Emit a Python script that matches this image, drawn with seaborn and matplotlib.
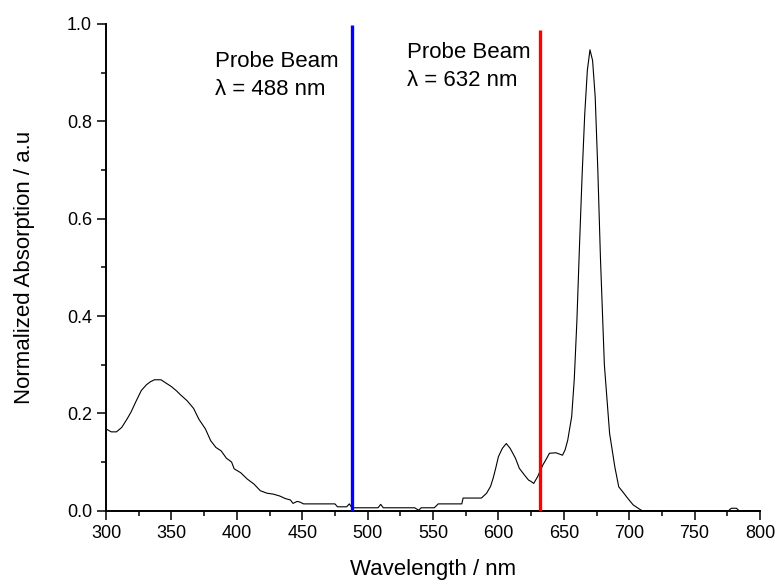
import matplotlib
matplotlib.use("Agg")
import matplotlib.pyplot as plt
import pandas as pd
import seaborn as sns
from matplotlib.ticker import MultipleLocator

# spectrum
wavelength = [
    300, 304, 308, 312, 316, 319, 323, 327, 331, 334, 337, 342, 346, 350, 354,
    357, 362, 367, 371, 376, 380, 384, 388, 392, 396, 398, 403, 408, 413, 418,
    423, 428, 433, 437, 441, 443, 446, 448, 451, 475, 477, 484, 486, 488, 508,
    510, 512, 536, 539, 541, 551, 554, 572, 573, 587, 591, 594, 596, 598, 600,
    603, 606, 609, 613, 616, 620, 623, 625, 627, 630, 634, 637, 639, 644, 649,
    651, 653, 656, 658, 660, 662, 664, 666, 668, 670, 672, 674, 676, 678, 681,
    685, 689, 692, 695, 699, 703, 708, 710, 776, 778, 782, 784, 800,
]
absorption = [
    0.168, 0.162, 0.162, 0.171, 0.188, 0.202, 0.225, 0.247, 0.259, 0.265, 0.269,
    0.269, 0.262, 0.255, 0.246, 0.238, 0.226, 0.210, 0.188, 0.168, 0.144, 0.130,
    0.123, 0.108, 0.100, 0.086, 0.078, 0.065, 0.055, 0.041, 0.036, 0.034, 0.030,
    0.025, 0.022, 0.015, 0.019, 0.018, 0.014, 0.014, 0.008, 0.008, 0.014, 0.006,
    0.006, 0.013, 0.006, 0.006, 0.001, 0.006, 0.006, 0.014, 0.014, 0.026, 0.026,
    0.036, 0.050, 0.067, 0.088, 0.111, 0.128, 0.138, 0.128, 0.108, 0.087, 0.073,
    0.063, 0.060, 0.056, 0.070, 0.094, 0.108, 0.118, 0.119, 0.114, 0.125, 0.145,
    0.193, 0.270, 0.390, 0.545, 0.690, 0.815, 0.905, 0.947, 0.925, 0.850, 0.700,
    0.520, 0.300, 0.159, 0.090, 0.049, 0.039, 0.025, 0.012, 0.003, 0.000, 0.000,
    0.005, 0.005, 0.000, 0.000,
]

probe_wavelengths = [488, 632]
probe_heights = [0.998, 0.988]
probe_colors = ["#0000ff", "#ff0000"]
probe_labels = ["Probe Beam\nλ = 488 nm", "Probe Beam\nλ = 632 nm"]
label_x = [383, 530]
label_y = [0.944, 0.962]

sns.set_style("ticks")
plt.rcParams["font.family"] = ["Liberation Sans", "DejaVu Sans"]
plt.rcParams["text.color"] = "black"
plt.rcParams["axes.labelcolor"] = "black"

df = pd.DataFrame({"wavelength": wavelength, "absorption": absorption})

fig = plt.figure(figsize=(7.76, 5.81), dpi=100)
ax = fig.add_axes([0.1366, 0.121, 0.8428, 0.8377])

sns.lineplot(data=df, x="wavelength", y="absorption", color="black",
             linewidth=0.8, ax=ax)

for wl, h, c in zip(probe_wavelengths, probe_heights, probe_colors):
    ax.vlines(wl, 0, h, color=c, linewidth=2.4, zorder=3)

for txt, tx, ty in zip(probe_labels, label_x, label_y):
    ax.text(tx, ty, txt, fontsize=16, ha="left", va="top", linespacing=1.42,
            color="black")

ax.set_xlim(300, 800)
ax.set_ylim(0, 1.0)
ax.xaxis.set_major_locator(MultipleLocator(50))
ax.xaxis.set_minor_locator(MultipleLocator(25))
ax.yaxis.set_major_locator(MultipleLocator(0.2))
ax.yaxis.set_minor_locator(MultipleLocator(0.1))
ax.tick_params(which="major", direction="out", length=6.5, width=1.1,
               labelsize=13, color="black", labelcolor="black")
ax.tick_params(which="minor", direction="out", length=3.5, width=1.1,
               color="black")

sns.despine(ax=ax)
for side in ["left", "bottom"]:
    ax.spines[side].set_linewidth(1.4)
    ax.spines[side].set_color("black")

ax.set_xlabel("Wavelength / nm", fontsize=16, color="black")
ax.set_ylabel("Normalized Absorption / a.u", fontsize=16, color="black")
ax.xaxis.set_label_coords(0.5, -0.099)
ax.yaxis.set_label_coords(-0.109, 0.5)

fig.savefig("out.png", dpi=100)
